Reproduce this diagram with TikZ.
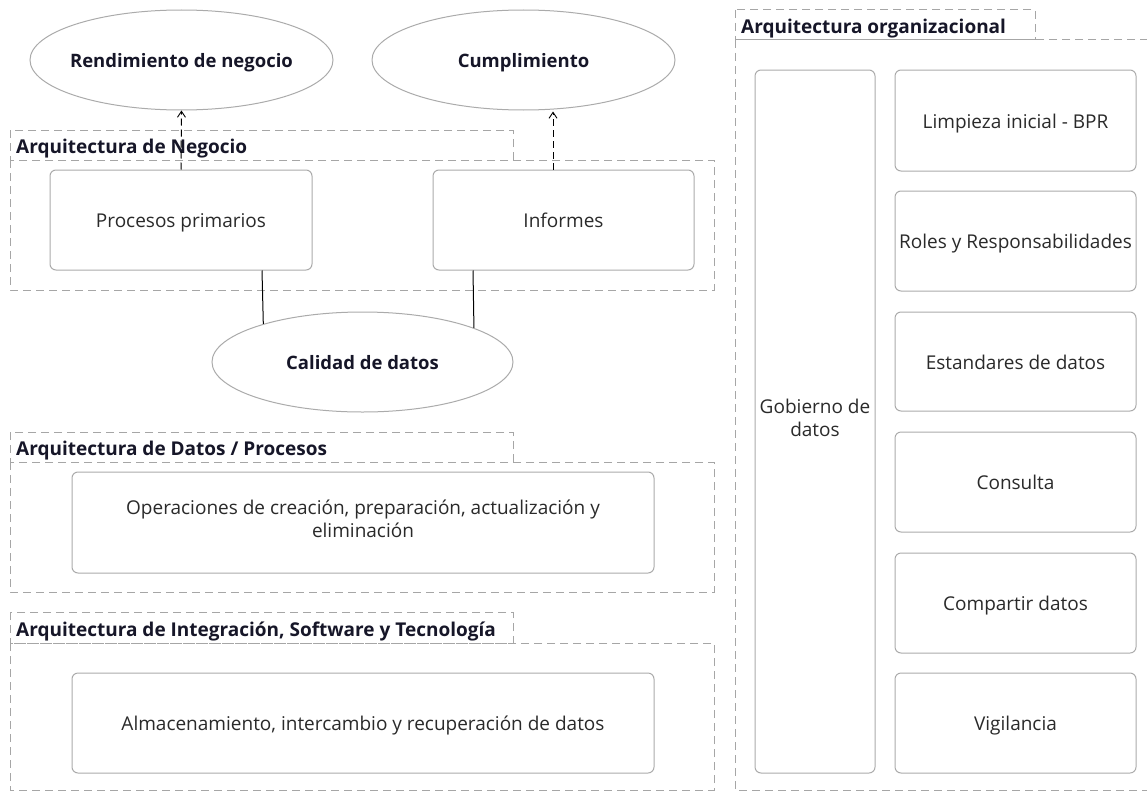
\documentclass[tikz,border=0pt]{standalone}
\usepackage{fontspec}
\setmainfont{Open Sans}
\usetikzlibrary{arrows.meta,shapes.geometric}

\definecolor{boxline}{HTML}{ABABAB}
\definecolor{pkgline}{HTML}{A6A6A6}
\definecolor{txt}{HTML}{2A2A2A}
\definecolor{btxt}{HTML}{161628}

% strut that sets the first baseline a little lower inside a node
\newcommand\lowstrut{\rule[-6.9pt]{0pt}{29pt}}

\tikzset{
  x=1pt, y=-1pt,
  pkg/.style={draw=pkgline, line width=1pt, dash pattern=on 8pt off 5pt},
  pkglabel/.style={anchor=west, inner sep=0pt, text=btxt,
    font=\fontsize{19}{22}\selectfont\bfseries},
  stepbox/.style={draw=boxline, line width=1pt, rounded corners=6pt, fill=white,
    inner sep=0pt, align=center, text=txt,
    font=\fontsize{19}{23}\selectfont,
    execute at begin node=\lowstrut, execute at end node=\lowstrut},
  goal/.style={draw=boxline, line width=1pt, ellipse, fill=white, inner sep=0pt},
  goaltext/.style={inner sep=0pt, text=btxt, font=\fontsize{18.5}{22}\selectfont\bfseries,
    execute at begin node=\lowstrut},
  dep/.style={draw=black, line width=1pt, dash pattern=on 7pt off 4pt,
    -{Straight Barb[length=6pt,width=8pt,line width=0.9pt]}},
  assoc/.style={draw=black, line width=1pt},
}

\begin{document}
\begin{tikzpicture}
\clip (0,0) rectangle (1147,792);
\fill[white] (0,0) rectangle (1147,792);

% goals
\node[goal, minimum width=303pt, minimum height=100pt] (rend) at (181.5,60) {};
\node[goaltext] (rendt) at (rend) {Rendimiento de negocio};
\node[goal, minimum width=303pt, minimum height=100pt] (cump) at (523.5,60) {};
\node[goaltext] (cumpt) at (cump) {Cumplimiento};

% business architecture package
\draw[pkg] (10,130) rectangle (513,160);
\draw[pkg] (10,160) rectangle (714,290);
\node[pkglabel] (negl) at (16,149) {Arquitectura de Negocio};
\node[stepbox, minimum width=262pt, minimum height=100pt] (proc) at (181,220) {Procesos primarios};
\node[stepbox, minimum width=261pt, minimum height=100pt] (inf) at (563.5,220) {Informes};

% data quality
\node[goal, minimum width=301pt, minimum height=100pt] (cal) at (362.5,362) {};
\node[goaltext] (calt) at (cal) {Calidad de datos};

% data / process architecture package
\draw[pkg] (10,432) rectangle (513,462);
\draw[pkg] (10,462) rectangle (714,592);
\node[pkglabel] (datl) at (16,451) {Arquitectura de Datos / Procesos};
\node[stepbox, minimum width=582pt, minimum height=101pt] (ops) at (363,522.5)
  {Operaciones de creación, preparación, actualización y\\eliminación};

% integration / software / technology package
\draw[pkg] (10,612) rectangle (513,643);
\draw[pkg] (10,643) rectangle (714,790);
\node[pkglabel] (intl) at (16,631.5) {Arquitectura de Integración, Software y Tecnología};
\node[stepbox, minimum width=582pt, minimum height=100pt] (alm) at (363,723)
  {Almacenamiento, intercambio y recuperación de datos};

% organisational architecture package
\draw[pkg] (735,10) rectangle (1035,40);
\draw[pkg] (735,40) rectangle (1160,790);
\node[pkglabel] (orgl) at (741,29) {Arquitectura organizacional};
\node[stepbox, minimum width=120pt, minimum height=703pt] (gob) at (815,421.5) {Gobierno de\\datos};
\node[stepbox, minimum width=241pt, minimum height=101pt] (limp) at (1015.5,120.5) {Limpieza inicial - BPR};
\node[stepbox, minimum width=241pt, minimum height=100pt] (roles) at (1015.5,241) {Roles y Responsabilidades};
\node[stepbox, minimum width=241pt, minimum height=99pt] (est) at (1015.5,361.5) {Estandares de datos};
\node[stepbox, minimum width=241pt, minimum height=100pt] (cons) at (1015.5,482) {Consulta};
\node[stepbox, minimum width=241pt, minimum height=100pt] (comp) at (1015.5,603) {Compartir datos};
\node[stepbox, minimum width=241pt, minimum height=100pt] (vig) at (1015.5,723) {Vigilancia};

% connectors
\draw[dep] (proc.north) -- (rend.south);
\draw[dep] ([xshift=-10.5pt]inf.north) -- ([xshift=29.5pt,yshift=-1pt]cump.south);
\draw[assoc] ([xshift=81pt]proc.south) -- (cal.159.7);
\draw[assoc] ([xshift=-90.5pt]inf.south) -- (cal.17.1);
\end{tikzpicture}
\end{document}
